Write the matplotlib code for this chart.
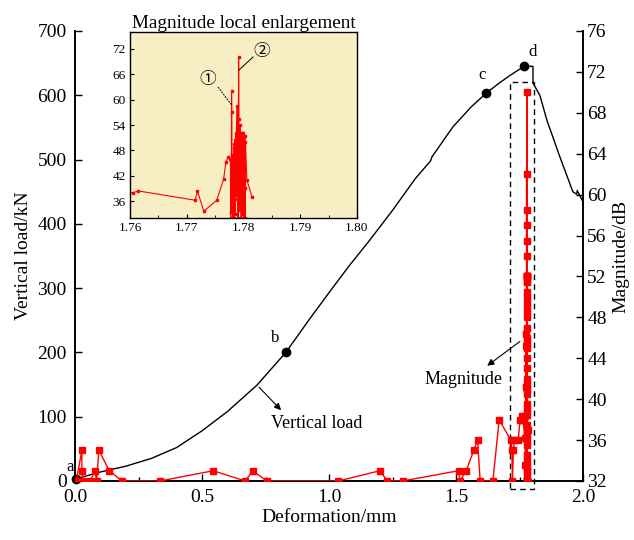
import matplotlib
matplotlib.use("Agg")
import matplotlib.pyplot as plt
from matplotlib.patches import Rectangle
from matplotlib.ticker import MultipleLocator

plt.rcParams['font.family'] = ['Liberation Serif', 'DejaVu Serif']

# vertical load curve (deformation in mm, load in kN)
load_x = [0.0, 0.1, 0.2, 0.3, 0.4, 0.5, 0.6, 0.716, 0.83, 0.92, 1.0, 1.08,
          1.161, 1.25, 1.339, 1.40, 1.405, 1.488, 1.56, 1.618, 1.67, 1.713, 1.768, 1.803,
          1.803, 1.83, 1.858, 1.909, 1.96, 1.975, 1.977, 2.0]
load_y = [3, 14, 23, 35, 52, 78, 108, 149, 200, 250, 293, 335,
          375, 421, 470, 498, 504, 551, 582, 603, 619, 631, 645, 645,
          619, 600, 561, 504, 450, 446, 452, 434]

# marked points a-d
pt_names = ['a', 'b', 'c', 'd']
pt_x = [0.005, 0.83, 1.618, 1.768]
pt_y = [3, 200, 603, 645]

# acoustic emission magnitude (dB)
mag_x = [0.005, 0.027, 0.027, 0.03, 0.06, 0.079, 0.085, 0.094, 0.135, 0.185,
         0.335, 0.544, 0.67, 0.70, 0.755, 1.037, 1.20, 1.23, 1.29, 1.51,
         1.515, 1.54, 1.57, 1.585, 1.595, 1.645, 1.67, 1.715, 1.72, 1.722,
         1.726, 1.73, 1.745, 1.752, 1.7605, 1.7615, 1.7715, 1.7719, 1.7730, 1.7753,
         1.7765, 1.7769, 1.7773,
         1.77770, 1.77775, 1.77780, 1.77785, 1.77790, 1.77795, 1.77800, 1.77805,
         1.77810, 1.77815, 1.77820, 1.77830, 1.77835, 1.77840, 1.77845, 1.77850,
         1.77855, 1.77860, 1.77870, 1.77875, 1.77880, 1.77890, 1.77895, 1.77900,
         1.77905, 1.77915, 1.77920, 1.77925, 1.77930, 1.77935, 1.77940, 1.77950,
         1.77955, 1.77960, 1.77965, 1.77970, 1.77980, 1.77985, 1.77990, 1.77995,
         1.78000, 1.78005, 1.78010, 1.78015, 1.78020, 1.78025, 1.78030, 1.78035,
         1.78060, 1.78150]
mag_db = [32, 35, 33, 32, 32, 33, 32, 35, 33, 32,
          32, 33, 32, 33, 32, 32, 33, 32, 32, 33,
          32, 33, 35, 36, 32, 32, 38, 36, 35, 32,
          35, 36, 36, 38, 38, 38.4, 36.2, 38.4, 33.6, 36.2,
          41.2, 45.2, 46.4,
          46.0, 32.0, 45.5, 33.5, 62.0, 57.0, 34.5, 47.0,
          32.5, 44.0, 35.5, 48.5, 32.0, 49.5, 36.5, 50.5,
          33.0, 43.0, 52.0, 37.5, 51.5, 58.5, 38.5, 52.0,
          32.0, 70.0, 55.5, 39.5, 52.0, 34.0, 54.0, 40.5,
          52.0, 32.0, 42.0, 52.0, 33.0, 48.0, 41.5, 52.0,
          36.0, 49.0, 32.0, 45.0, 39.0, 51.5, 32.0, 50.0,
          41.0, 37.0]

fig = plt.figure(figsize=(6.34, 5.40), dpi=100)
ax = fig.add_axes([0.1183, 0.1093, 0.8013, 0.8333])
ax2 = ax.twinx()

ax.plot(load_x, load_y, color='black', lw=1.0, zorder=3)
ax.plot(pt_x, pt_y, 'o', color='black', ms=6, zorder=4, clip_on=False)

ax.set_xlim(0, 2.0)
ax.set_ylim(0, 700)
ax.xaxis.set_major_locator(MultipleLocator(0.5))
ax.xaxis.set_minor_locator(MultipleLocator(0.25))
ax.yaxis.set_major_locator(MultipleLocator(100))
ax.tick_params(direction='in', which='both', labelsize=14, length=5, width=1)
ax.tick_params(axis='x', pad=6)
ax.tick_params(axis='y', pad=6)
ax.tick_params(which='minor', length=3)
ax.set_xlabel('Deformation/mm', fontsize=14, labelpad=2)
ax.set_ylabel('Vertical load/kN', fontsize=14, labelpad=4)

ax2.plot(mag_x, mag_db, color='red', lw=1.0, marker='s', ms=4.5, zorder=3)
ax2.set_ylim(32, 76)
ax2.yaxis.set_major_locator(MultipleLocator(4))
ax2.tick_params(direction='in', labelsize=14, length=5, width=1, pad=3)
ax2.set_ylabel('Magnitude/dB', fontsize=14, labelpad=4)

for a in (ax, ax2):
    a.spines['top'].set_visible(False)
    for s in ('left', 'right', 'bottom'):
        a.spines[s].set_linewidth(1.2)

# dashed box around the dense magnitude column
ax.add_patch(Rectangle((1.713, -12.4), 0.094, 633, fill=False, ls=(0, (4, 3)),
                       lw=1.0, ec='black', clip_on=False, zorder=5))

for n, x, y in zip(pt_names, [-0.02, 0.787, 1.602, 1.803], [22, 222, 631, 667]):
    ax.text(x, y, n, fontsize=12, ha='center', va='center')

ax.annotate('', xy=(0.819, 107), xytext=(0.717, 149),
            arrowprops=dict(arrowstyle='-|>', color='black', lw=0.8))
ax.text(0.953, 89, 'Vertical load', fontsize=13, ha='center', va='center')

ax2.annotate('', xy=(1.614, 43.1), xytext=(1.760, 45.8),
             arrowprops=dict(arrowstyle='-|>', color='black', lw=0.8))
ax2.text(1.528, 41.9, 'Magnitude', fontsize=13, ha='center', va='center')

# inset
ins = fig.add_axes([0.205, 0.5963, 0.358, 0.3444])
ins.set_facecolor('#F7EFC3')
ins.plot(mag_x, mag_db, color='red', lw=0.8, marker='s', ms=1.8)
ins.set_xlim(1.76, 1.80)
ins.set_ylim(32, 76)
ins.xaxis.set_minor_locator(MultipleLocator(0.005))
ins.set_xticks([1.76, 1.77, 1.78, 1.79, 1.80])
ins.set_xticklabels(['1.76', '1.77', '1.78', '1.79', '1.80'])
ins.set_yticks([36, 42, 48, 54, 60, 66, 72])
ins.tick_params(direction='in', which='both', labelsize=9.5, length=3, pad=3)
ins.tick_params(which='minor', length=2)
for s in ins.spines.values():
    s.set_linewidth(1.0)
ins.set_title('Magnitude local enlargement', fontsize=13.8, pad=3)

circ_font = ['Noto Sans CJK SC', 'DejaVu Sans']
ins.text(1.7737, 64.7, '\u2460', fontsize=12, ha='center', va='center', family=circ_font)
ins.plot([1.7755, 1.778], [63, 58.6], color='black', lw=0.7, ls=(0, (2, 1)))
ins.text(1.7833, 71.3, '\u2461', fontsize=12, ha='center', va='center', family=circ_font)
ins.plot([1.7817, 1.7792], [70.1, 67], color='black', lw=0.7)

fig.savefig('out.png', dpi=100)
